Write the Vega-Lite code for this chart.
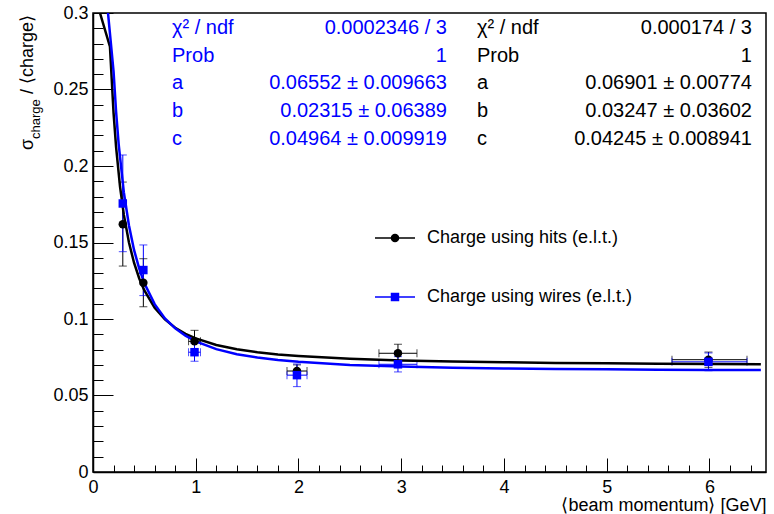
{
  "$schema": "https://vega.github.io/schema/vega-lite/v6.json",
  "width": 673,
  "height": 459,
  "autosize": {"type": "none"},
  "padding": {"left": 93, "top": 13, "right": 8, "bottom": 42},
  "background": "white",
  "config": {
    "font": "Liberation Sans",
    "view": {"stroke": "black", "strokeWidth": 1.5},
    "axis": {"labelFont": "Liberation Sans", "titleFont": "Liberation Sans", "labelOverlap": false},
    "text": {"font": "Liberation Sans"}
  },
  "datasets": {
    "points": [
      {"series": "Charge using hits (e.l.t.)", "x": 0.29, "y": 0.162, "ylo": 0.1346, "yhi": 0.1895, "xlo": null, "xhi": null},
      {"series": "Charge using hits (e.l.t.)", "x": 0.49, "y": 0.1237, "ylo": 0.108, "yhi": 0.1394, "xlo": null, "xhi": null},
      {"series": "Charge using hits (e.l.t.)", "x": 0.988, "y": 0.0854, "ylo": 0.0782, "yhi": 0.0926, "xlo": 0.93, "xhi": 1.046},
      {"series": "Charge using hits (e.l.t.)", "x": 1.985, "y": 0.066, "ylo": 0.062, "yhi": 0.07, "xlo": 1.888, "xhi": 2.083},
      {"series": "Charge using hits (e.l.t.)", "x": 2.968, "y": 0.0776, "ylo": 0.0717, "yhi": 0.0835, "xlo": 2.783, "xhi": 3.153},
      {"series": "Charge using hits (e.l.t.)", "x": 5.99, "y": 0.0734, "ylo": 0.0684, "yhi": 0.0784, "xlo": 5.635, "xhi": 6.365},
      {"series": "Charge using wires (e.l.t.)", "x": 0.29, "y": 0.1755, "ylo": 0.144, "yhi": 0.2072, "xlo": null, "xhi": null},
      {"series": "Charge using wires (e.l.t.)", "x": 0.49, "y": 0.132, "ylo": 0.1153, "yhi": 0.1484, "xlo": null, "xhi": null},
      {"series": "Charge using wires (e.l.t.)", "x": 0.988, "y": 0.0783, "ylo": 0.0724, "yhi": 0.0842, "xlo": 0.93, "xhi": 1.046},
      {"series": "Charge using wires (e.l.t.)", "x": 1.985, "y": 0.0633, "ylo": 0.0558, "yhi": 0.0706, "xlo": 1.888, "xhi": 2.083},
      {"series": "Charge using wires (e.l.t.)", "x": 2.968, "y": 0.0704, "ylo": 0.0654, "yhi": 0.0754, "xlo": 2.783, "xhi": 3.153},
      {"series": "Charge using wires (e.l.t.)", "x": 5.99, "y": 0.072, "ylo": 0.0662, "yhi": 0.0778, "xlo": 5.635, "xhi": 6.365}
    ],
    "curves": [
      {"series": "Charge using hits (e.l.t.)", "x": 0.068, "y": 0.3},
      {"series": "Charge using hits (e.l.t.)", "x": 0.165, "y": 0.278},
      {"series": "Charge using hits (e.l.t.)", "x": 0.2, "y": 0.2347},
      {"series": "Charge using hits (e.l.t.)", "x": 0.225, "y": 0.2122},
      {"series": "Charge using hits (e.l.t.)", "x": 0.263, "y": 0.1866},
      {"series": "Charge using hits (e.l.t.)", "x": 0.3, "y": 0.1682},
      {"series": "Charge using hits (e.l.t.)", "x": 0.35, "y": 0.15},
      {"series": "Charge using hits (e.l.t.)", "x": 0.4, "y": 0.1366},
      {"series": "Charge using hits (e.l.t.)", "x": 0.45, "y": 0.1265},
      {"series": "Charge using hits (e.l.t.)", "x": 0.5, "y": 0.1187},
      {"series": "Charge using hits (e.l.t.)", "x": 0.6, "y": 0.1074},
      {"series": "Charge using hits (e.l.t.)", "x": 0.7, "y": 0.0997},
      {"series": "Charge using hits (e.l.t.)", "x": 0.8, "y": 0.0943},
      {"series": "Charge using hits (e.l.t.)", "x": 0.9, "y": 0.0903},
      {"series": "Charge using hits (e.l.t.)", "x": 1.0, "y": 0.0873},
      {"series": "Charge using hits (e.l.t.)", "x": 1.2, "y": 0.083},
      {"series": "Charge using hits (e.l.t.)", "x": 1.4, "y": 0.0802},
      {"series": "Charge using hits (e.l.t.)", "x": 1.6, "y": 0.0783},
      {"series": "Charge using hits (e.l.t.)", "x": 1.8, "y": 0.0768},
      {"series": "Charge using hits (e.l.t.)", "x": 2.0, "y": 0.0758},
      {"series": "Charge using hits (e.l.t.)", "x": 2.5, "y": 0.074},
      {"series": "Charge using hits (e.l.t.)", "x": 3.0, "y": 0.0729},
      {"series": "Charge using hits (e.l.t.)", "x": 3.5, "y": 0.0722},
      {"series": "Charge using hits (e.l.t.)", "x": 4.0, "y": 0.0717},
      {"series": "Charge using hits (e.l.t.)", "x": 4.5, "y": 0.0713},
      {"series": "Charge using hits (e.l.t.)", "x": 5.0, "y": 0.071},
      {"series": "Charge using hits (e.l.t.)", "x": 5.5, "y": 0.0708},
      {"series": "Charge using hits (e.l.t.)", "x": 6.0, "y": 0.0706},
      {"series": "Charge using hits (e.l.t.)", "x": 6.5, "y": 0.0705},
      {"series": "Charge using wires (e.l.t.)", "x": 0.146, "y": 0.3},
      {"series": "Charge using wires (e.l.t.)", "x": 0.2, "y": 0.2619},
      {"series": "Charge using wires (e.l.t.)", "x": 0.225, "y": 0.2353},
      {"series": "Charge using wires (e.l.t.)", "x": 0.25, "y": 0.2142},
      {"series": "Charge using wires (e.l.t.)", "x": 0.3, "y": 0.1829},
      {"series": "Charge using wires (e.l.t.)", "x": 0.35, "y": 0.1611},
      {"series": "Charge using wires (e.l.t.)", "x": 0.4, "y": 0.145},
      {"series": "Charge using wires (e.l.t.)", "x": 0.45, "y": 0.1329},
      {"series": "Charge using wires (e.l.t.)", "x": 0.5, "y": 0.1234},
      {"series": "Charge using wires (e.l.t.)", "x": 0.6, "y": 0.1097},
      {"series": "Charge using wires (e.l.t.)", "x": 0.7, "y": 0.1004},
      {"series": "Charge using wires (e.l.t.)", "x": 0.8, "y": 0.0939},
      {"series": "Charge using wires (e.l.t.)", "x": 0.9, "y": 0.0891},
      {"series": "Charge using wires (e.l.t.)", "x": 1.0, "y": 0.0854},
      {"series": "Charge using wires (e.l.t.)", "x": 1.2, "y": 0.0803},
      {"series": "Charge using wires (e.l.t.)", "x": 1.4, "y": 0.077},
      {"series": "Charge using wires (e.l.t.)", "x": 1.6, "y": 0.0748},
      {"series": "Charge using wires (e.l.t.)", "x": 1.8, "y": 0.0732},
      {"series": "Charge using wires (e.l.t.)", "x": 2.0, "y": 0.072},
      {"series": "Charge using wires (e.l.t.)", "x": 2.5, "y": 0.07},
      {"series": "Charge using wires (e.l.t.)", "x": 3.0, "y": 0.0689},
      {"series": "Charge using wires (e.l.t.)", "x": 3.5, "y": 0.0682},
      {"series": "Charge using wires (e.l.t.)", "x": 4.0, "y": 0.0677},
      {"series": "Charge using wires (e.l.t.)", "x": 4.5, "y": 0.0673},
      {"series": "Charge using wires (e.l.t.)", "x": 5.0, "y": 0.0671},
      {"series": "Charge using wires (e.l.t.)", "x": 5.5, "y": 0.0669},
      {"series": "Charge using wires (e.l.t.)", "x": 6.0, "y": 0.0667},
      {"series": "Charge using wires (e.l.t.)", "x": 6.5, "y": 0.0666}
    ],
    "stats": [
      {"series": "Charge using wires (e.l.t.)", "name": "χ² / ndf", "value": "0.0002346 / 3"},
      {"series": "Charge using wires (e.l.t.)", "name": "Prob", "value": "1"},
      {"series": "Charge using wires (e.l.t.)", "name": "a", "value": "0.06552 ± 0.009663"},
      {"series": "Charge using wires (e.l.t.)", "name": "b", "value": "0.02315 ± 0.06389"},
      {"series": "Charge using wires (e.l.t.)", "name": "c", "value": "0.04964 ± 0.009919"},
      {"series": "Charge using hits (e.l.t.)", "name": "χ² / ndf", "value": "0.000174 / 3"},
      {"series": "Charge using hits (e.l.t.)", "name": "Prob", "value": "1"},
      {"series": "Charge using hits (e.l.t.)", "name": "a", "value": "0.06901 ± 0.00774"},
      {"series": "Charge using hits (e.l.t.)", "name": "b", "value": "0.03247 ± 0.03602"},
      {"series": "Charge using hits (e.l.t.)", "name": "c", "value": "0.04245 ± 0.008941"}
    ],
    "legend": [
      {"series": "Charge using hits (e.l.t.)"},
      {"series": "Charge using wires (e.l.t.)"}
    ]
  },
  "layer": [
    {
      "layer": [
        {
          "data": {"name": "points"},
          "mark": {"type": "rule", "strokeWidth": 1},
          "encoding": {
            "x": {"field": "x", "type": "quantitative", "scale": {"domain": [0, 6.55], "nice": false, "zero": false}, "axis": null},
            "y": {"field": "ylo", "type": "quantitative", "scale": {"domain": [0, 0.3], "nice": false, "zero": false}, "axis": null},
            "y2": {"field": "yhi"},
            "color": {"field": "series", "type": "nominal", "scale": {"domain": ["Charge using hits (e.l.t.)", "Charge using wires (e.l.t.)"], "range": ["#000000", "#0000ff"]}, "legend": null}
          }
        },
        {
          "data": {"name": "points"},
          "transform": [{"filter": "isValid(datum.xlo)"}],
          "mark": {"type": "rule", "strokeWidth": 1},
          "encoding": {
            "x": {"field": "xlo", "type": "quantitative", "scale": {"domain": [0, 6.55], "nice": false, "zero": false}, "axis": null},
            "x2": {"field": "xhi"},
            "y": {"field": "y", "type": "quantitative", "scale": {"domain": [0, 0.3], "nice": false, "zero": false}, "axis": null},
            "color": {"field": "series", "type": "nominal", "scale": {"domain": ["Charge using hits (e.l.t.)", "Charge using wires (e.l.t.)"], "range": ["#000000", "#0000ff"]}, "legend": null}
          }
        },
        {
          "data": {"name": "points"},
          "mark": {"type": "tick", "orient": "horizontal", "size": 8, "thickness": 1},
          "encoding": {
            "x": {"field": "x", "type": "quantitative", "scale": {"domain": [0, 6.55], "nice": false, "zero": false}, "axis": null},
            "y": {"field": "ylo", "type": "quantitative", "scale": {"domain": [0, 0.3], "nice": false, "zero": false}, "axis": null},
            "color": {"field": "series", "type": "nominal", "scale": {"domain": ["Charge using hits (e.l.t.)", "Charge using wires (e.l.t.)"], "range": ["#000000", "#0000ff"]}, "legend": null}
          }
        },
        {
          "data": {"name": "points"},
          "mark": {"type": "tick", "orient": "horizontal", "size": 8, "thickness": 1},
          "encoding": {
            "x": {"field": "x", "type": "quantitative", "scale": {"domain": [0, 6.55], "nice": false, "zero": false}, "axis": null},
            "y": {"field": "yhi", "type": "quantitative", "scale": {"domain": [0, 0.3], "nice": false, "zero": false}, "axis": null},
            "color": {"field": "series", "type": "nominal", "scale": {"domain": ["Charge using hits (e.l.t.)", "Charge using wires (e.l.t.)"], "range": ["#000000", "#0000ff"]}, "legend": null}
          }
        },
        {
          "data": {"name": "points"},
          "transform": [{"filter": "isValid(datum.xlo)"}],
          "mark": {"type": "tick", "orient": "vertical", "size": 8, "thickness": 1},
          "encoding": {
            "x": {"field": "xlo", "type": "quantitative", "scale": {"domain": [0, 6.55], "nice": false, "zero": false}, "axis": null},
            "y": {"field": "y", "type": "quantitative", "scale": {"domain": [0, 0.3], "nice": false, "zero": false}, "axis": null},
            "color": {"field": "series", "type": "nominal", "scale": {"domain": ["Charge using hits (e.l.t.)", "Charge using wires (e.l.t.)"], "range": ["#000000", "#0000ff"]}, "legend": null}
          }
        },
        {
          "data": {"name": "points"},
          "transform": [{"filter": "isValid(datum.xhi)"}],
          "mark": {"type": "tick", "orient": "vertical", "size": 8, "thickness": 1},
          "encoding": {
            "x": {"field": "xhi", "type": "quantitative", "scale": {"domain": [0, 6.55], "nice": false, "zero": false}, "axis": null},
            "y": {"field": "y", "type": "quantitative", "scale": {"domain": [0, 0.3], "nice": false, "zero": false}, "axis": null},
            "color": {"field": "series", "type": "nominal", "scale": {"domain": ["Charge using hits (e.l.t.)", "Charge using wires (e.l.t.)"], "range": ["#000000", "#0000ff"]}, "legend": null}
          }
        }
      ]
    },
    {
      "layer": [
        {
          "data": {"name": "curves"},
          "mark": {"type": "line", "clip": true, "strokeWidth": 2.5},
          "encoding": {
            "x": {
              "field": "x", "type": "quantitative",
              "scale": {"domain": [0, 6.55], "nice": false, "zero": false},
              "axis": {
                "orient": "bottom",
                "values": [0, 1, 2, 3, 4, 5, 6],
                "format": "d",
                "labelFontSize": 18, "labelColor": "black", "labelPadding": 20, "labelOverlap": false, "labelFlush": false,
                "ticks": true, "tickSize": -14, "tickColor": "black", "tickWidth": 1,
                "domain": true, "domainColor": "black", "domainWidth": 1.5, "grid": false,
                "title": "⟨beam momentum⟩ [GeV]", "titleFontSize": 18, "titleFontWeight": "normal", "titleColor": "black",
                "titleAnchor": "end", "titleAlign": "right", "titlePadding": 0
              }
            },
            "y": {
              "field": "y", "type": "quantitative",
              "scale": {"domain": [0, 0.3], "nice": false, "zero": false},
              "axis": {
                "orient": "left",
                "values": [0, 0.05, 0.1, 0.15, 0.2, 0.25, 0.3],
                "format": "~g",
                "labelFontSize": 18, "labelColor": "black", "labelPadding": 25, "labelOverlap": false, "labelFlush": false,
                "ticks": true, "tickSize": -20, "tickColor": "black", "tickWidth": 1,
                "domain": true, "domainColor": "black", "domainWidth": 1.5, "grid": false,
                "title": null
              }
            },
            "color": {
              "field": "series", "type": "nominal",
              "scale": {"domain": ["Charge using hits (e.l.t.)", "Charge using wires (e.l.t.)"], "range": ["#000000", "#0000ff"]},
              "legend": null
            }
          }
        },
        {
          "data": {"name": "points"},
          "mark": {"type": "point", "filled": true, "size": 72, "opacity": 1},
          "encoding": {
            "x": {
              "field": "x", "type": "quantitative",
              "scale": {"domain": [0, 6.55], "nice": false, "zero": false},
              "axis": {
                "orient": "bottom",
                "values": [0.2, 0.4, 0.6, 0.8, 1.2, 1.4, 1.6, 1.8, 2.2, 2.4, 2.6, 2.8, 3.2, 3.4, 3.6, 3.8, 4.2, 4.4, 4.6, 4.8, 5.2, 5.4, 5.6, 5.8, 6.2, 6.4],
                "labels": false, "domain": false, "grid": false, "title": null,
                "ticks": true, "tickSize": -7, "tickColor": "black", "tickWidth": 1
              }
            },
            "y": {
              "field": "y", "type": "quantitative",
              "scale": {"domain": [0, 0.3], "nice": false, "zero": false},
              "axis": {
                "orient": "left",
                "values": [0.01, 0.02, 0.03, 0.04, 0.06, 0.07, 0.08, 0.09, 0.11, 0.12, 0.13, 0.14, 0.16, 0.17, 0.18, 0.19, 0.21, 0.22, 0.23, 0.24, 0.26, 0.27, 0.28, 0.29],
                "labels": false, "domain": false, "grid": false, "title": null,
                "ticks": true, "tickSize": -10, "tickColor": "black", "tickWidth": 1
              }
            },
            "color": {
              "field": "series", "type": "nominal",
              "scale": {"domain": ["Charge using hits (e.l.t.)", "Charge using wires (e.l.t.)"], "range": ["#000000", "#0000ff"]},
              "legend": null
            },
            "shape": {
              "field": "series", "type": "nominal",
              "scale": {"domain": ["Charge using hits (e.l.t.)", "Charge using wires (e.l.t.)"], "range": ["circle", "square"]},
              "legend": null
            }
          }
        }
      ],
      "resolve": {"axis": {"x": "independent", "y": "independent"}}
    },
    {
      "layer": [
        {
          "data": {"values": [{}]},
          "mark": {"type": "text", "angle": 270, "align": "left", "baseline": "middle", "fontSize": 18, "color": "black", "text": "σ"},
          "encoding": {
            "x": {"datum": -0.6326, "type": "quantitative", "scale": {"domain": [0, 6.55], "nice": false, "zero": false}, "axis": null},
            "y": {"datum": 0.2105, "type": "quantitative", "scale": {"domain": [0, 0.3], "nice": false, "zero": false}, "axis": null}
          }
        },
        {
          "data": {"values": [{}]},
          "mark": {"type": "text", "angle": 270, "align": "left", "baseline": "middle", "fontSize": 13, "color": "black", "text": "charge"},
          "encoding": {
            "x": {"datum": -0.5547, "type": "quantitative", "scale": {"domain": [0, 6.55], "nice": false, "zero": false}, "axis": null},
            "y": {"datum": 0.2176, "type": "quantitative", "scale": {"domain": [0, 0.3], "nice": false, "zero": false}, "axis": null}
          }
        },
        {
          "data": {"values": [{}]},
          "mark": {"type": "text", "angle": 270, "align": "left", "baseline": "middle", "fontSize": 18, "color": "black", "text": "/ ⟨charge⟩"},
          "encoding": {
            "x": {"datum": -0.6326, "type": "quantitative", "scale": {"domain": [0, 6.55], "nice": false, "zero": false}, "axis": null},
            "y": {"datum": 0.2471, "type": "quantitative", "scale": {"domain": [0, 0.3], "nice": false, "zero": false}, "axis": null}
          }
        },
        {
          "data": {"name": "stats"},
          "transform": [
            {"filter": "datum.series == 'Charge using wires (e.l.t.)'"},
            {"aggregate": [{"op": "values", "field": "name", "as": "vals"}], "groupby": ["series"]},
            {"calculate": "pluck(datum.vals, 'name')", "as": "lines"}
          ],
          "mark": {"type": "text", "align": "left", "baseline": "middle", "fontSize": 20, "lineHeight": 27.75, "color": "#0000ff"},
          "encoding": {
            "x": {"datum": 0.7689, "type": "quantitative", "scale": {"domain": [0, 6.55], "nice": false, "zero": false}, "axis": null},
            "y": {"datum": 0.2902, "type": "quantitative", "scale": {"domain": [0, 0.3], "nice": false, "zero": false}, "axis": null},
            "text": {"field": "lines"}
          }
        },
        {
          "data": {"name": "stats"},
          "transform": [
            {"filter": "datum.series == 'Charge using wires (e.l.t.)'"},
            {"aggregate": [{"op": "values", "field": "value", "as": "vals"}], "groupby": ["series"]},
            {"calculate": "pluck(datum.vals, 'value')", "as": "lines"}
          ],
          "mark": {"type": "text", "align": "right", "baseline": "middle", "fontSize": 20, "lineHeight": 27.75, "color": "#0000ff"},
          "encoding": {
            "x": {"datum": 3.4453, "type": "quantitative", "scale": {"domain": [0, 6.55], "nice": false, "zero": false}, "axis": null},
            "y": {"datum": 0.2902, "type": "quantitative", "scale": {"domain": [0, 0.3], "nice": false, "zero": false}, "axis": null},
            "text": {"field": "lines"}
          }
        },
        {
          "data": {"name": "stats"},
          "transform": [
            {"filter": "datum.series == 'Charge using hits (e.l.t.)'"},
            {"aggregate": [{"op": "values", "field": "name", "as": "vals"}], "groupby": ["series"]},
            {"calculate": "pluck(datum.vals, 'name')", "as": "lines"}
          ],
          "mark": {"type": "text", "align": "left", "baseline": "middle", "fontSize": 20, "lineHeight": 27.75, "color": "#000000"},
          "encoding": {
            "x": {"datum": 3.7372, "type": "quantitative", "scale": {"domain": [0, 6.55], "nice": false, "zero": false}, "axis": null},
            "y": {"datum": 0.2902, "type": "quantitative", "scale": {"domain": [0, 0.3], "nice": false, "zero": false}, "axis": null},
            "text": {"field": "lines"}
          }
        },
        {
          "data": {"name": "stats"},
          "transform": [
            {"filter": "datum.series == 'Charge using hits (e.l.t.)'"},
            {"aggregate": [{"op": "values", "field": "value", "as": "vals"}], "groupby": ["series"]},
            {"calculate": "pluck(datum.vals, 'value')", "as": "lines"}
          ],
          "mark": {"type": "text", "align": "right", "baseline": "middle", "fontSize": 20, "lineHeight": 27.75, "color": "#000000"},
          "encoding": {
            "x": {"datum": 6.4136, "type": "quantitative", "scale": {"domain": [0, 6.55], "nice": false, "zero": false}, "axis": null},
            "y": {"datum": 0.2902, "type": "quantitative", "scale": {"domain": [0, 0.3], "nice": false, "zero": false}, "axis": null},
            "text": {"field": "lines"}
          }
        },
        {
          "data": {"name": "legend"},
          "transform": [{"filter": "datum.series == 'Charge using hits (e.l.t.)'"}],
          "mark": {"type": "rule", "strokeWidth": 1.5, "color": "#000000"},
          "encoding": {
            "x": {"datum": 2.7445, "type": "quantitative", "scale": {"domain": [0, 6.55], "nice": false, "zero": false}, "axis": null},
            "x2": {"datum": 3.1338},
            "y": {"datum": 0.15294, "type": "quantitative", "scale": {"domain": [0, 0.3], "nice": false, "zero": false}, "axis": null}
          }
        },
        {
          "data": {"name": "legend"},
          "transform": [{"filter": "datum.series == 'Charge using hits (e.l.t.)'"}],
          "mark": {"type": "point", "shape": "circle", "filled": true, "size": 72, "opacity": 1, "color": "#000000"},
          "encoding": {
            "x": {"datum": 2.9392, "type": "quantitative", "scale": {"domain": [0, 6.55], "nice": false, "zero": false}, "axis": null},
            "y": {"datum": 0.15294, "type": "quantitative", "scale": {"domain": [0, 0.3], "nice": false, "zero": false}, "axis": null}
          }
        },
        {
          "data": {"name": "legend"},
          "transform": [{"filter": "datum.series == 'Charge using hits (e.l.t.)'"}],
          "mark": {"type": "text", "align": "left", "baseline": "middle", "fontSize": 18, "color": "#000000"},
          "encoding": {
            "x": {"datum": 3.2506, "type": "quantitative", "scale": {"domain": [0, 6.55], "nice": false, "zero": false}, "axis": null},
            "y": {"datum": 0.15294, "type": "quantitative", "scale": {"domain": [0, 0.3], "nice": false, "zero": false}, "axis": null},
            "text": {"field": "series"}
          }
        },
        {
          "data": {"name": "legend"},
          "transform": [{"filter": "datum.series == 'Charge using wires (e.l.t.)'"}],
          "mark": {"type": "rule", "strokeWidth": 1.5, "color": "#0000ff"},
          "encoding": {
            "x": {"datum": 2.7445, "type": "quantitative", "scale": {"domain": [0, 6.55], "nice": false, "zero": false}, "axis": null},
            "x2": {"datum": 3.1338},
            "y": {"datum": 0.11438, "type": "quantitative", "scale": {"domain": [0, 0.3], "nice": false, "zero": false}, "axis": null}
          }
        },
        {
          "data": {"name": "legend"},
          "transform": [{"filter": "datum.series == 'Charge using wires (e.l.t.)'"}],
          "mark": {"type": "point", "shape": "square", "filled": true, "size": 72, "opacity": 1, "color": "#0000ff"},
          "encoding": {
            "x": {"datum": 2.9392, "type": "quantitative", "scale": {"domain": [0, 6.55], "nice": false, "zero": false}, "axis": null},
            "y": {"datum": 0.11438, "type": "quantitative", "scale": {"domain": [0, 0.3], "nice": false, "zero": false}, "axis": null}
          }
        },
        {
          "data": {"name": "legend"},
          "transform": [{"filter": "datum.series == 'Charge using wires (e.l.t.)'"}],
          "mark": {"type": "text", "align": "left", "baseline": "middle", "fontSize": 18, "color": "#000000"},
          "encoding": {
            "x": {"datum": 3.2506, "type": "quantitative", "scale": {"domain": [0, 6.55], "nice": false, "zero": false}, "axis": null},
            "y": {"datum": 0.11438, "type": "quantitative", "scale": {"domain": [0, 0.3], "nice": false, "zero": false}, "axis": null},
            "text": {"field": "series"}
          }
        }
      ]
    }
  ],
  "resolve": {"scale": {"x": "independent", "y": "independent", "color": "independent", "shape": "independent"}}
}
